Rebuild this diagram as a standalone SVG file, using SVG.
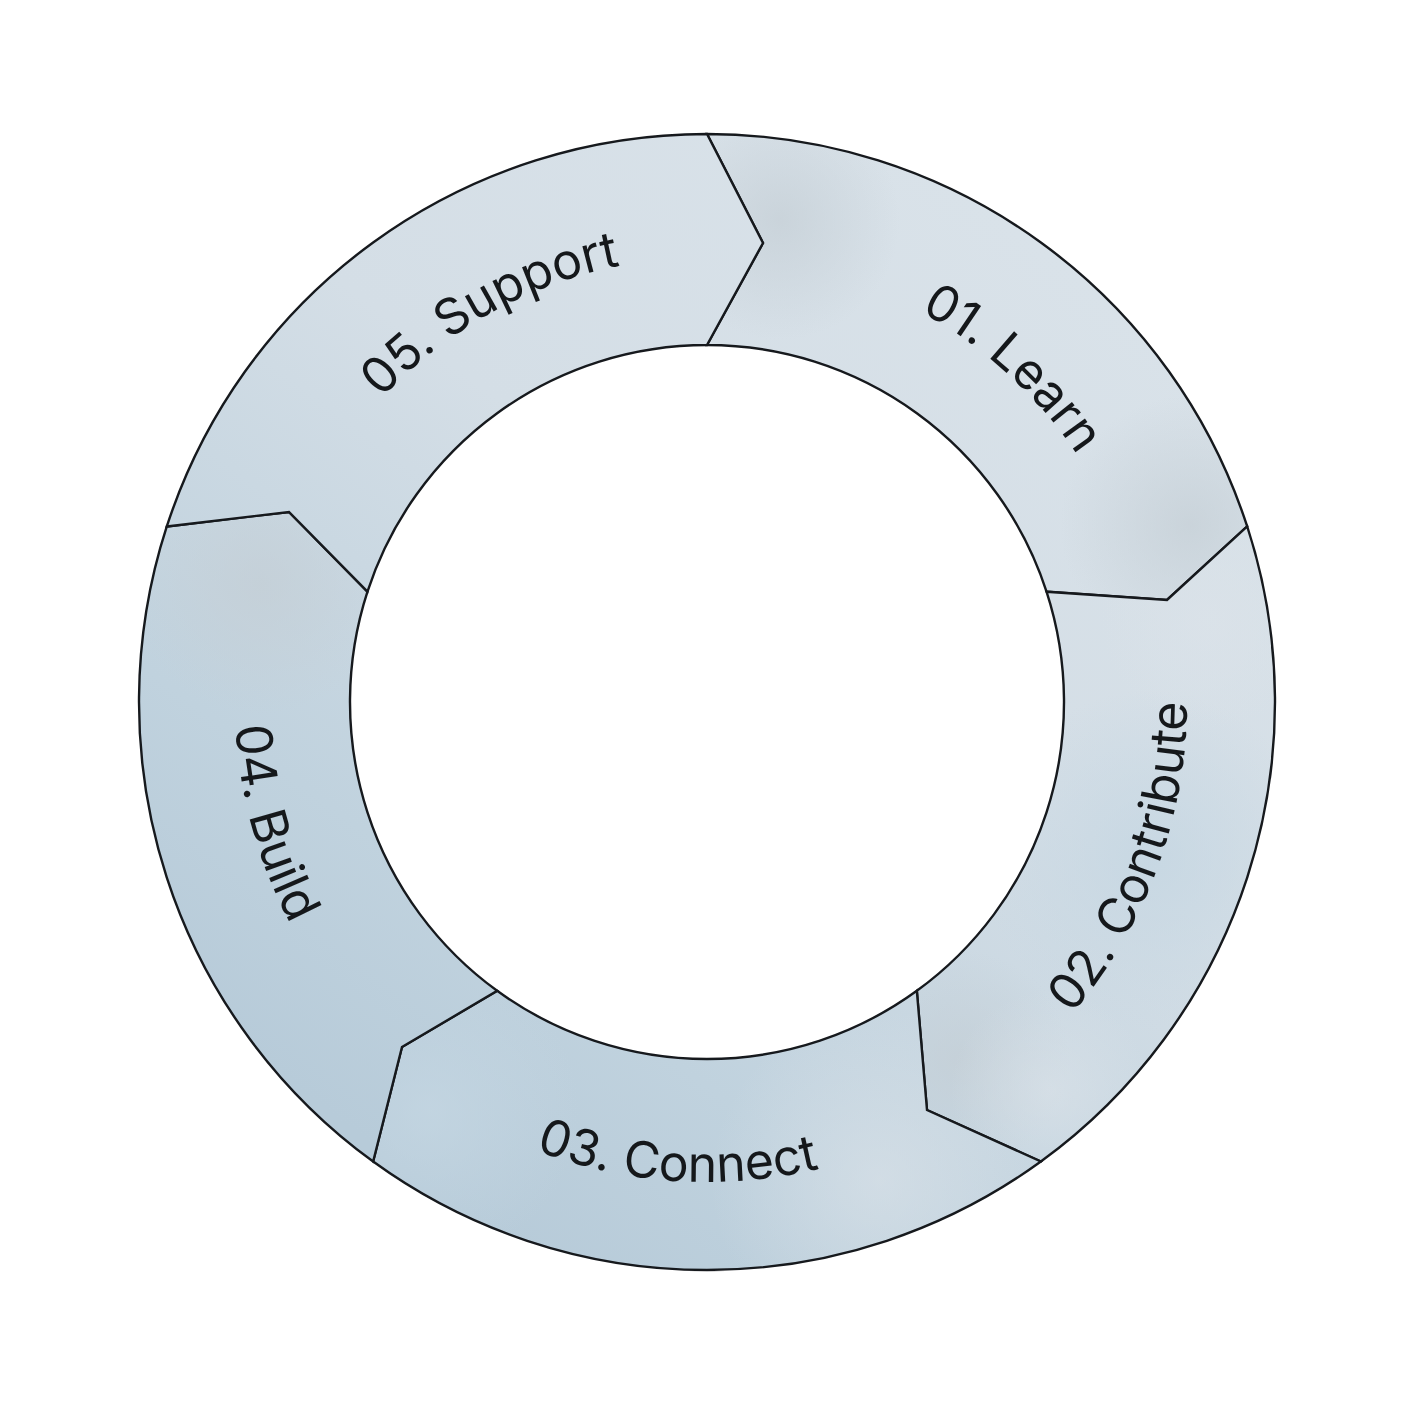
<svg xmlns="http://www.w3.org/2000/svg" xmlns:xlink="http://www.w3.org/1999/xlink" width="1416" height="1419" viewBox="0 0 1416 1419">
  <style>
    .edge { fill: none; stroke: #16191d; stroke-width: 2.4; stroke-linejoin: miter; }
    .base { fill: url(#baseGrad); }
    .label { font-family: "Inter", "Liberation Sans", sans-serif; font-size: 50px; font-weight: 400; fill: #15181b; }
  </style>
  <defs>
    <linearGradient id="baseGrad" gradientUnits="userSpaceOnUse" x1="1050" y1="250" x2="380" y2="1150">
      <stop offset="0" stop-color="#d9e2e9"/>
      <stop offset="0.4" stop-color="#d4dee6"/>
      <stop offset="0.78" stop-color="#c0d2de"/>
      <stop offset="1" stop-color="#b7cbd9"/>
    </linearGradient>
    <radialGradient id="gray" gradientUnits="objectBoundingBox" cx="0.5" cy="0.5" r="0.5">
      <stop offset="0" stop-color="#c4ced5" stop-opacity="0.7"/>
      <stop offset="1" stop-color="#c4ced5" stop-opacity="0"/>
    </radialGradient>
    <radialGradient id="light" gradientUnits="objectBoundingBox" cx="0.5" cy="0.5" r="0.5">
      <stop offset="0" stop-color="#dce3e9" stop-opacity="0.6"/>
      <stop offset="1" stop-color="#dce3e9" stop-opacity="0"/>
    </radialGradient>
    <radialGradient id="blue" gradientUnits="objectBoundingBox" cx="0.5" cy="0.5" r="0.5">
      <stop offset="0" stop-color="#c4d6e2" stop-opacity="0.8"/>
      <stop offset="1" stop-color="#c4d6e2" stop-opacity="0"/>
    </radialGradient>
    <path id="p1" d="M707,134 A568,568 0 0 1 1247.2,526.48 L1167,600 L1046.53,591.68 A357,357 0 0 0 707,345 L763,243 Z"/>
    <path id="p2" d="M1247.2,526.48 A568,568 0 0 1 1040.86,1161.52 L927,1110 L916.84,990.82 A357,357 0 0 0 1046.53,591.68 L1167,600 Z"/>
    <path id="p3" d="M1040.86,1161.52 A568,568 0 0 1 373.14,1161.52 L402,1047 L497.16,990.82 A357,357 0 0 0 916.84,990.82 L927,1110 Z"/>
    <path id="p4" d="M373.14,1161.52 A568,568 0 0 1 166.8,526.48 L289,512 L367.47,591.68 A357,357 0 0 0 497.16,990.82 L402,1047 Z"/>
    <path id="p5" d="M166.8,526.48 A568,568 0 0 1 707,134 L763,243 L707,345 A357,357 0 0 0 367.47,591.68 L289,512 Z"/>
    <clipPath id="c1"><use xlink:href="#p1"/></clipPath>
    <clipPath id="c2"><use xlink:href="#p2"/></clipPath>
    <clipPath id="c3"><use xlink:href="#p3"/></clipPath>
    <clipPath id="c4"><use xlink:href="#p4"/></clipPath>
    <path id="t1" d="M573.18,277.59 A445,445 0 0 1 1141.45,798.32"/>
    <path id="t2" d="M787.88,1175.14 A480,480 0 0 0 1076.31,395.39"/>
    <path id="t3" d="M276.68,914.67 A480,480 0 0 0 1106.34,968.32"/>
    <path id="t4" d="M370.35,371.17 A472,472 0 0 0 588.82,1158.97"/>
    <path id="t5" d="M262.06,695.01 A445,445 0 0 1 935.48,320.13"/>
  </defs>
  <rect width="1416" height="1419" fill="#ffffff"/>

  <g id="node-01-learn">
    <use xlink:href="#p1" class="base"/>
    <g clip-path="url(#c1)">
      <circle cx="780" cy="220" r="120" fill="url(#gray)"/>
      <circle cx="1190" cy="525" r="130" fill="url(#gray)"/>
    </g>
    <use xlink:href="#p1" class="edge"/>
    <text class="label"><textPath xlink:href="#t1" startOffset="50%" text-anchor="middle">01. Learn</textPath></text>
  </g>

  <g id="node-02-contribute">
    <use xlink:href="#p2" class="base"/>
    <g clip-path="url(#c2)">
      <circle cx="1150" cy="860" r="170" fill="url(#blue)"/>
      <circle cx="960" cy="1060" r="110" fill="url(#gray)"/>
      <circle cx="1050" cy="1090" r="100" fill="url(#light)"/>
      <circle cx="1210" cy="620" r="110" fill="url(#light)"/>
    </g>
    <use xlink:href="#p2" class="edge"/>
    <text class="label"><textPath xlink:href="#t2" startOffset="50%" text-anchor="middle">02. Contribute</textPath></text>
  </g>

  <g id="node-03-connect">
    <use xlink:href="#p3" class="base"/>
    <g clip-path="url(#c3)">
      <circle cx="880" cy="1180" r="170" fill="url(#light)"/>
      <circle cx="430" cy="1110" r="150" fill="url(#blue)"/>
    </g>
    <use xlink:href="#p3" class="edge"/>
    <text class="label"><textPath xlink:href="#t3" startOffset="50%" text-anchor="middle">03. Connect</textPath></text>
  </g>

  <g id="node-04-build">
    <use xlink:href="#p4" class="base"/>
    <g clip-path="url(#c4)">
      <circle cx="260" cy="585" r="130" fill="url(#gray)"/>
    </g>
    <use xlink:href="#p4" class="edge"/>
    <text class="label"><textPath xlink:href="#t4" startOffset="50%" text-anchor="middle">04. Build</textPath></text>
  </g>

  <g id="node-05-support">
    <use xlink:href="#p5" class="base"/>
    <use xlink:href="#p5" class="edge"/>
    <text class="label"><textPath xlink:href="#t5" startOffset="50%" text-anchor="middle">05. Support</textPath></text>
  </g>

  <g id="connectors"></g>
</svg>
